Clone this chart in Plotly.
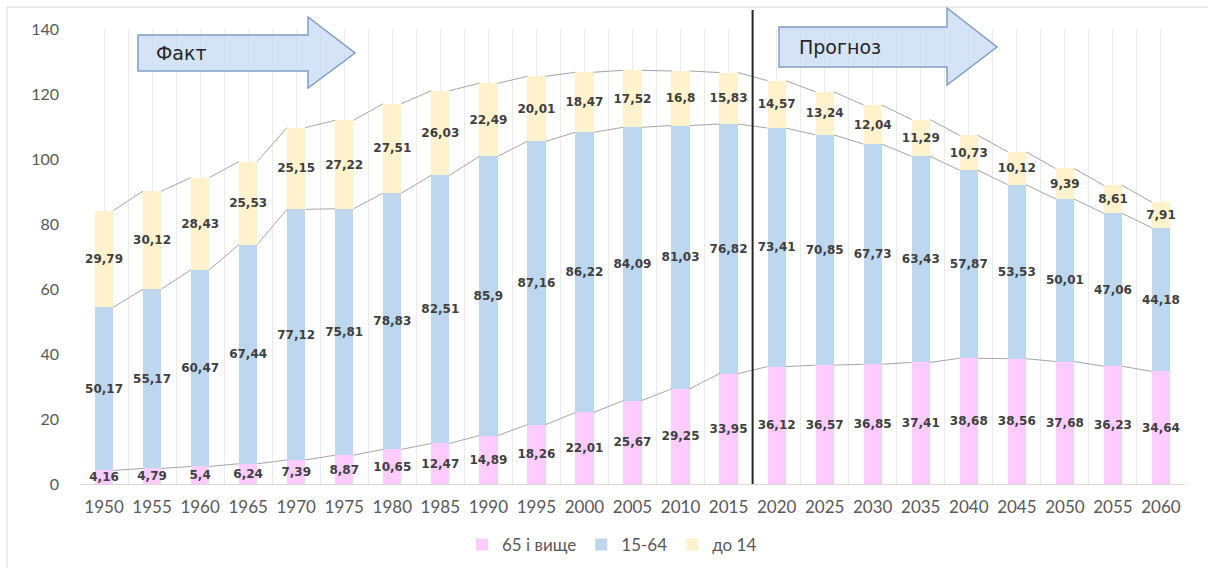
import plotly.graph_objects as go

years = ["1950", "1955", "1960", "1965", "1970", "1975", "1980", "1985", "1990", "1995",
         "2000", "2005", "2010", "2015", "2020", "2025", "2030", "2035", "2040", "2045",
         "2050", "2055", "2060"]
age_65_plus = [4.16, 4.79, 5.4, 6.24, 7.39, 8.87, 10.65, 12.47, 14.89, 18.26, 22.01, 25.67,
               29.25, 33.95, 36.12, 36.57, 36.85, 37.41, 38.68, 38.56, 37.68, 36.23, 34.64]
age_15_64 = [50.17, 55.17, 60.47, 67.44, 77.12, 75.81, 78.83, 82.51, 85.9, 87.16, 86.22, 84.09,
             81.03, 76.82, 73.41, 70.85, 67.73, 63.43, 57.87, 53.53, 50.01, 47.06, 44.18]
age_0_14 = [29.79, 30.12, 28.43, 25.53, 25.15, 27.22, 27.51, 26.03, 22.49, 20.01, 18.47, 17.52,
            16.8, 15.83, 14.57, 13.24, 12.04, 11.29, 10.73, 10.12, 9.39, 8.61, 7.91]
series_names = ["65 і вище", "15-64", "до 14"]
colors = ["#FFCCFF", "#BDD7EE", "#FFF2CC"]

W, H = 1208, 568
L, R, T, B = 80, 23, 29, 84
PW, PH = W - L - R, H - T - B


def px(x):
    return (x - L) / PW


def py(y):
    return (H - B - y) / PH


idx = list(range(len(years)))
bw = 0.38


def fmt(v):
    return f"{v:g}".replace(".", ",")


fig = go.Figure()
series = [age_65_plus, age_15_64, age_0_14]
for name, vals, col in zip(series_names, series, colors):
    fig.add_trace(go.Bar(
        x=idx, y=vals, name=name, width=bw, marker=dict(color=col, line=dict(width=0)),
        text=[fmt(v) for v in vals], textposition="inside", insidetextanchor="middle",
        textangle=0, constraintext="none", cliponaxis=False,
        textfont=dict(family="DejaVu Sans", size=12, color="#404040", weight="bold"),
    ))

# series lines connecting stacked tops
cum = [0.0] * len(years)
for vals in series:
    cum = [c + v for c, v in zip(cum, vals)]
    xs, ys = [], []
    for i in range(len(years) - 1):
        xs += [i + bw / 2, i + 1 - bw / 2, None]
        ys += [cum[i], cum[i + 1], None]
    fig.add_trace(go.Scatter(x=xs, y=ys, mode="lines", showlegend=False, hoverinfo="skip",
                             line=dict(color="#A6A6A6", width=1)))

# arrows
def arrow(pts):
    d = "M " + " L ".join(f"{px(a):.5f},{py(b):.5f}" for a, b in pts) + " Z"
    return d

fakt = [(138, 35), (308, 35), (308, 17), (355, 53), (308, 88), (308, 71), (138, 71)]
prog = [(779, 27), (947, 27), (947, 8), (997, 47), (947, 85), (947, 67), (779, 67)]
for pts in (fakt, prog):
    fig.add_shape(type="path", path=arrow(pts), xref="paper", yref="paper",
                  fillcolor="rgba(197,218,242,0.75)", line=dict(color="#7F9FC8", width=1.5),
                  layer="above")

fig.add_annotation(text="Факт", x=px(154), y=py(53), xref="paper", yref="paper",
                   xanchor="left", yanchor="middle", showarrow=False,
                   font=dict(family="DejaVu Sans", size=19, color="#262626"))
fig.add_annotation(text="Прогноз", x=px(797), y=py(47), xref="paper", yref="paper",
                   xanchor="left", yanchor="middle", showarrow=False,
                   font=dict(family="DejaVu Sans", size=19, color="#262626"))

# divider fact / forecast
fig.add_shape(type="line", x0=13.5, x1=13.5, xref="x", y0=0, y1=py(10), yref="paper",
              line=dict(color="#262626", width=2), layer="above")

# outer frame (only top and left edges fall inside the picture)
fig.add_shape(type="rect", x0=px(7), x1=px(1230), y0=py(600), y1=py(7), xref="paper", yref="paper",
              line=dict(color="#D9D9D9", width=1), layer="below")

fig.update_layout(
    width=W, height=H, margin=dict(l=L, r=R, t=T, b=B, autoexpand=False),
    barmode="stack", plot_bgcolor="white", paper_bgcolor="white",
    showlegend=True,
    legend=dict(orientation="h", x=px(612), xanchor="center", y=py(545), yanchor="middle",
                traceorder="normal", font=dict(family="Lato", size=17, color="#595959")),
    xaxis=dict(range=[-0.5, len(years) - 0.5], tickmode="array", tickvals=idx, ticktext=years,
               showgrid=True, gridcolor="#EBEBEB", gridwidth=1,
               minor=dict(tickvals=[i - 0.5 for i in range(len(years) + 1)], showgrid=True,
                          gridcolor="#EBEBEB", gridwidth=1),
               showline=True, linecolor="#D9D9D9", linewidth=1, zeroline=False,
               ticks="", ticklabelstandoff=8,
               tickfont=dict(family="Lato", size=17, color="#595959")),
    yaxis=dict(range=[0, 140], tickmode="array", tickvals=[0, 20, 40, 60, 80, 100, 120, 140],
               showgrid=False, zeroline=False, showline=False, ticks="",
               ticklabelstandoff=20,
               tickfont=dict(family="Lato", size=16, color="#595959")),
)

fig.write_html("out.html", config={"displayModeBar": False},
               post_script="document.body.style.margin='0';")
